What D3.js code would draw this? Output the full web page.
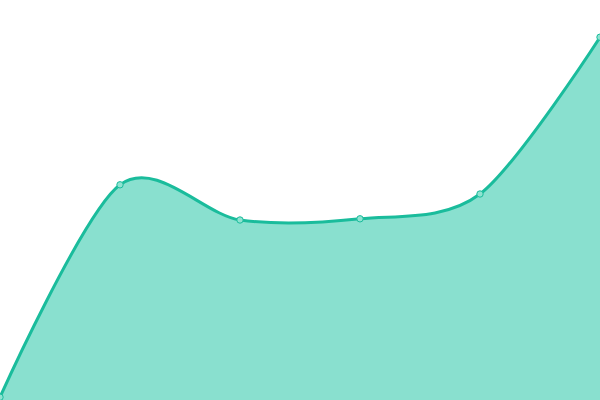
<!DOCTYPE html>
<html>
<head>
<meta charset="utf-8">
<script src="https://cdn.jsdelivr.net/npm/d3@7"></script>
<style>
  html, body { margin: 0; padding: 0; background: #fff; }
  svg { display: block; }
</style>
</head>
<body>
<div id="chart"></div>
<script>
const indexes = [0, 1, 2, 3, 4, 5];
const values = [0.7, 53.8, 45, 45.3, 51.5, 90.7];

const width = 600;
const height = 400;

const x = d3.scaleLinear().domain([0, 5]).range([0, width]);
const y = d3.scaleLinear().domain([0, 100]).range([height, 0]);

const data = indexes.map((d, i) => ({ i: d, v: values[i] }));

const svg = d3.select("#chart").append("svg")
    .attr("width", width)
    .attr("height", height);

const curve = d3.curveCardinal.tension(0.1);

const area = d3.area()
    .x(d => x(d.i))
    .y0(height)
    .y1(d => y(d.v))
    .curve(curve);

const line = d3.line()
    .x(d => x(d.i))
    .y(d => y(d.v))
    .curve(curve);

svg.append("path")
    .datum(data)
    .attr("d", area)
    .attr("fill", "#89e0cf");

svg.append("path")
    .datum(data)
    .attr("d", line)
    .attr("fill", "none")
    .attr("stroke", "#1abc9c")
    .attr("stroke-width", 3);

svg.append("g")
    .selectAll("circle")
    .data(data)
    .join("circle")
    .attr("cx", d => x(d.i))
    .attr("cy", d => y(d.v))
    .attr("r", 3.2)
    .attr("fill", "#8fe3d1")
    .attr("stroke", "#1abc9c")
    .attr("stroke-width", 1);
</script>
</body>
</html>
